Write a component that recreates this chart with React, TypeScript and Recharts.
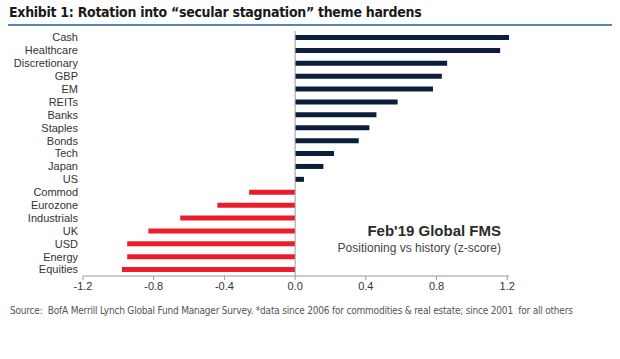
import * as React from "react";
import { BarChart, Bar, XAxis, YAxis, Cell, ReferenceLine } from "recharts";

const CATEGORIES = [
  "Cash", "Healthcare", "Discretionary", "GBP", "EM", "REITs", "Banks", "Staples", "Bonds", "Tech",
  "Japan", "US", "Commod", "Eurozone", "Industrials", "UK", "USD", "Energy", "Equities",
];

const ZSCORES = [
  1.21, 1.16, 0.86, 0.83, 0.78, 0.58, 0.46, 0.42, 0.36, 0.22,
  0.16, 0.05, -0.26, -0.44, -0.65, -0.83, -0.95, -0.95, -0.98,
];

const X_TICKS = [-1.2, -0.8, -0.4, 0, 0.4, 0.8, 1.2];

const NAVY = "#0b1f3d";
const RED = "#ec1c2a";
const AXIS_GREY = "#9a9a9a";

const data = CATEGORIES.map((name, i) => ({ name, value: ZSCORES[i] }));

export default function App() {
  return (
    <div
      style={{
        position: "absolute",
        left: 0,
        top: 0,
        width: 620,
        height: 359,
        background: "#fff",
        fontFamily: "'Liberation Sans', Arial, sans-serif",
      }}
    >
      <div
        style={{
          position: "absolute",
          left: 9,
          top: 4,
          fontFamily: "'DejaVu Sans Condensed', 'DejaVu Sans', sans-serif",
          fontStretch: "condensed",
          fontWeight: 700,
          fontSize: 14,
          color: "#1a1a1a",
          whiteSpace: "nowrap",
          letterSpacing: -0.3,
        }}
      >
        Exhibit 1: Rotation into “secular stagnation” theme hardens
      </div>
      <div
        style={{
          position: "absolute",
          left: 8,
          top: 24,
          width: 604,
          height: 2,
          background: "#5b84b8",
        }}
      />
      <BarChart
        width={620}
        height={359}
        data={data}
        layout="vertical"
        margin={{ top: 31, right: 111, bottom: 53, left: 0 }}
        barCategoryGap={0}
      >
        <XAxis
          type="number"
          domain={[-1.2, 1.2]}
          ticks={X_TICKS}
          tickFormatter={(v: number) => v.toFixed(1)}
          tick={{ fontSize: 11, fill: "#333" }}
          axisLine={{ stroke: AXIS_GREY }}
          tickLine={{ stroke: AXIS_GREY }}
          tickSize={4}
          height={30}
          interval={0}
        />
        <YAxis
          type="category"
          dataKey="name"
          width={83}
          tick={{ fontSize: 11, fill: "#333" }}
          axisLine={false}
          tickLine={false}
          tickSize={3}
          tickMargin={2}
          interval={0}
        />
        <ReferenceLine x={0} stroke={AXIS_GREY} strokeWidth={1} />
        <Bar dataKey="value" barSize={5} isAnimationActive={false}>
          {data.map((d) => (
            <Cell key={d.name} fill={d.value >= 0 ? NAVY : RED} />
          ))}
        </Bar>
      </BarChart>
      <div
        style={{
          position: "absolute",
          right: 119,
          top: 222,
          fontSize: 15,
          fontWeight: 700,
          color: "#2a2a2a",
          whiteSpace: "nowrap",
        }}
      >
        Feb'19 Global FMS
      </div>
      <div
        style={{
          position: "absolute",
          right: 119,
          top: 241,
          fontSize: 12,
          color: "#444",
          whiteSpace: "nowrap",
        }}
      >
        Positioning vs history (z-score)
      </div>
      <div
        style={{
          position: "absolute",
          left: 10,
          top: 305,
          fontFamily: "'DejaVu Sans Condensed', 'DejaVu Sans', sans-serif",
          fontStretch: "condensed",
          fontSize: 10,
          color: "#555",
          whiteSpace: "pre",
          letterSpacing: -0.2,
        }}
      >
        {"Source:  BofA Merrill Lynch Global Fund Manager Survey. *data since 2006 for commodities & real estate; since 2001  for all others"}
      </div>
    </div>
  );
}
